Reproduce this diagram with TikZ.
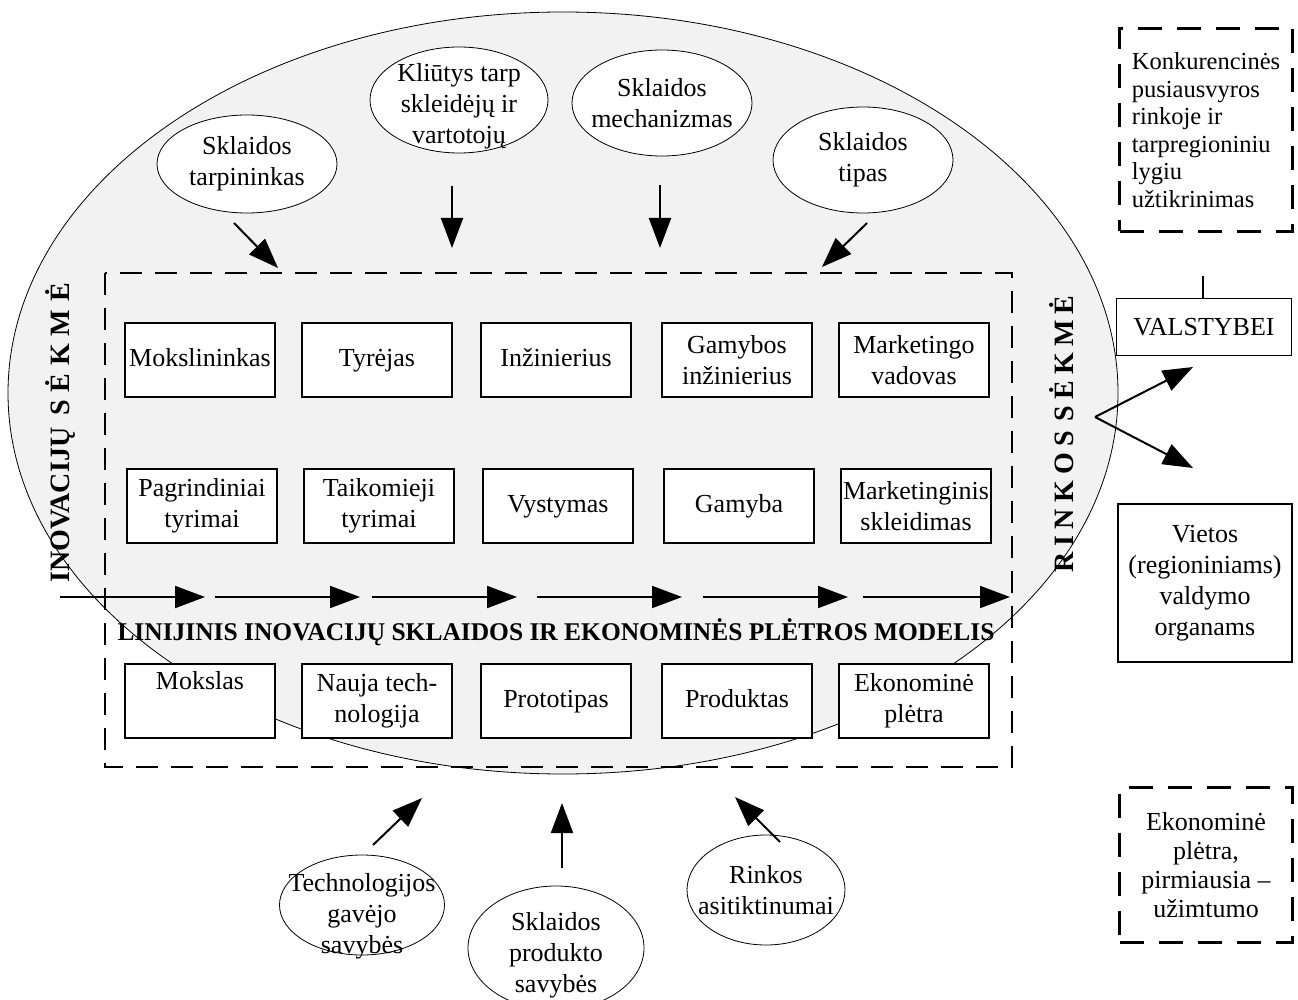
\documentclass[tikz,border=0pt]{standalone}
\usepackage{fontspec}
\setmainfont{Liberation Serif}
\usepackage{graphicx}
\usetikzlibrary{shapes.geometric,arrows.meta}
\newcommand\tf{\fontsize{26pt}{31pt}\selectfont}
\newcommand\smf{\fontsize{24.5pt}{27.5pt}\selectfont}
\tikzset{
  ell/.style={ellipse, draw, fill=white, line width=0.8pt, inner sep=0pt},
  txt/.style={align=center, inner sep=0pt, font=\tf},
  bx/.style={draw, fill=white, line width=1.2pt, minimum width=150pt, minimum height=74pt, align=center, inner sep=0pt, font=\tf},
  arr/.style={-{Triangle[length=30pt,width=22pt]}, line width=2pt},
  dframe/.style={draw, line width=2.6pt, dash pattern=on 22pt off 13pt},
  dbox/.style={draw, line width=2.6pt, dash pattern=on 24pt off 15pt, inner sep=0pt},
  vtxt/.style={rotate=90, inner sep=0pt, font=\bfseries\fontsize{28pt}{32pt}\selectfont},
}
\begin{document}
\begin{tikzpicture}[x=1pt,y=-1pt]
\useasboundingbox (0,0) rectangle (1298,1000);
% big ellipse
\draw[fill=gray!10, line width=0.8pt] (563,393) ellipse [x radius=555, y radius=381];
% dashed frame
\draw[dframe] (105,273) rectangle (1012,767);

% top ellipses
\node[ell, minimum width=180pt, minimum height=98pt] (tarp) at (247,164) {};
\node[txt] (tarpT) at (tarp) {Sklaidos\\tarpininkas};
\node[ell, minimum width=178pt, minimum height=106pt] (kliu) at (459,100) {};
\node[txt] (kliuT) at (459,106) {Kliūtys tarp\\skleidėjų ir\\vartotojų};
\node[ell, minimum width=180pt, minimum height=106pt] (mech) at (662,103) {};
\node[txt] (mechT) at (mech) {Sklaidos\\mechanizmas};
\node[ell, minimum width=180pt, minimum height=106pt] (tipas) at (863,160) {};
\node[txt] (tipasT) at (tipas) {Sklaidos\\tipas};

\coordinate (a1s) at (234,223); \coordinate (a1e) at (278,268);
\coordinate (a2s) at (452,186); \coordinate (a2e) at (452,248);
\coordinate (a3s) at (660,185); \coordinate (a3e) at (660,248);
\coordinate (a4s) at (867,223); \coordinate (a4e) at (822,267);
\draw[arr] (a1s) -- (a1e);
\draw[arr] (a2s) -- (a2e);
\draw[arr] (a3s) -- (a3e);
\draw[arr] (a4s) -- (a4e);

% row 1
\node[bx] (r11) at (200,360) {Mokslininkas\strut};
\node[bx] (r12) at (377,360) {Tyrėjas\strut};
\node[bx] (r13) at (556,360) {Inžinierius\strut};
\node[bx] (r14) at (737,360) {Gamybos\\inžinierius};
\node[bx] (r15) at (914,360) {Marketingo\\vadovas};
% row 2
\node[bx] (r21) at (202,506) {Pagrindiniai\\tyrimai};
\node[bx] (r22) at (379,506) {Taikomieji\\tyrimai};
\node[bx] (r23) at (558,506) {Vystymas\strut};
\node[bx] (r24) at (739,506) {Gamyba\strut};
\node[bx] (r25) at (916,506) {Marketinginis\\skleidimas};
% row 3
\node[bx] (r31) at (200,701) {Mokslas\\\strut};
\node[bx] (r32) at (377,701) {Nauja tech-\\nologija};
\node[bx] (r33) at (556,701) {Prototipas\strut};
\node[bx] (r34) at (737,701) {Produktas\strut};
\node[bx] (r35) at (914,701) {Ekonominė\\plėtra};

% horizontal arrows
\foreach \a/\b [count=\i] in {60/205,215/360,372/517,537/682,703/848,863/1010}{
  \coordinate (hs\i) at (\a,597); \coordinate (he\i) at (\b,597);
  \draw[arr] (hs\i) -- (he\i);
}

% title
\node[inner sep=0pt] (title) at (556,632) {\resizebox{877pt}{\height}{\bfseries\fontsize{25.5pt}{30pt}\selectfont LINIJINIS INOVACIJŲ SKLAIDOS IR EKONOMINĖS PLĖTROS MODELIS}};

% vertical texts
\node[vtxt] (inov) at (60,433) {INOVACIJŲ\hspace{12pt}{\addfontfeature{LetterSpace=28}SĖKMĖ}};
\node[vtxt] (rink) at (1062,434) {\addfontfeature{LetterSpace=22}RINKOS\hspace{10pt}SĖKMĖ};

% bottom ellipses
\node[ell, minimum width=165pt, minimum height=100pt] (tech) at (362,905) {};
\node[txt] (techT) at (362,916) {Technologijos\\gavėjo\\savybės};
\node[ell, minimum width=176pt, minimum height=124pt] (prod) at (556,948) {};
\node[txt] (prodT) at (556,955) {Sklaidos\\produkto\\savybės};
\node[ell, minimum width=158pt, minimum height=110pt] (rnk) at (766,890) {};
\node[txt] (rnkT) at (rnk) {Rinkos\\asitiktinumai};

\coordinate (b1s) at (373,845); \coordinate (b1e) at (422,798);
\coordinate (b2s) at (562,868); \coordinate (b2e) at (562,803);
\coordinate (b3s) at (780,842); \coordinate (b3e) at (735,797);
\draw[arr] (b1s) -- (b1e);
\draw[arr] (b2s) -- (b2e);
\draw[arr] (b3s) -- (b3e);

% right side
\node[dbox, minimum width=173pt, minimum height=203pt, align=left, font=\smf] (konk) at (1206,130) {Konkurencinės\\pusiausvyros\\rinkoje ir\\tarpregioniniu\\lygiu\\užtikrinimas};
\node[draw, line width=1.2pt, minimum width=175pt, minimum height=57pt, font=\tf, inner sep=0pt] (valst) at (1204,327) {VALSTYBEI};
\coordinate (stub) at (1203,276);
\draw[line width=1.2pt] (stub) -- (stub |- valst.north);
\node[draw, line width=1.2pt, minimum width=174pt, minimum height=158pt, font=\tf, align=center, inner sep=0pt] (viet) at (1205,583) {Vietos\\(regioniniams)\\valdymo\\organams};
\coordinate (split) at (1095,417);
\coordinate (up) at (1193,367);
\coordinate (dn) at (1193,468);
\draw[arr] (split) -- (up);
\draw[arr] (split) -- (dn);
\node[dbox, minimum width=173pt, minimum height=155pt, align=center, font=\fontsize{26pt}{29pt}\selectfont] (ekon) at (1206,865) {Ekonominė\\plėtra,\\pirmiausia –\\užimtumo};
\end{tikzpicture}
\end{document}
